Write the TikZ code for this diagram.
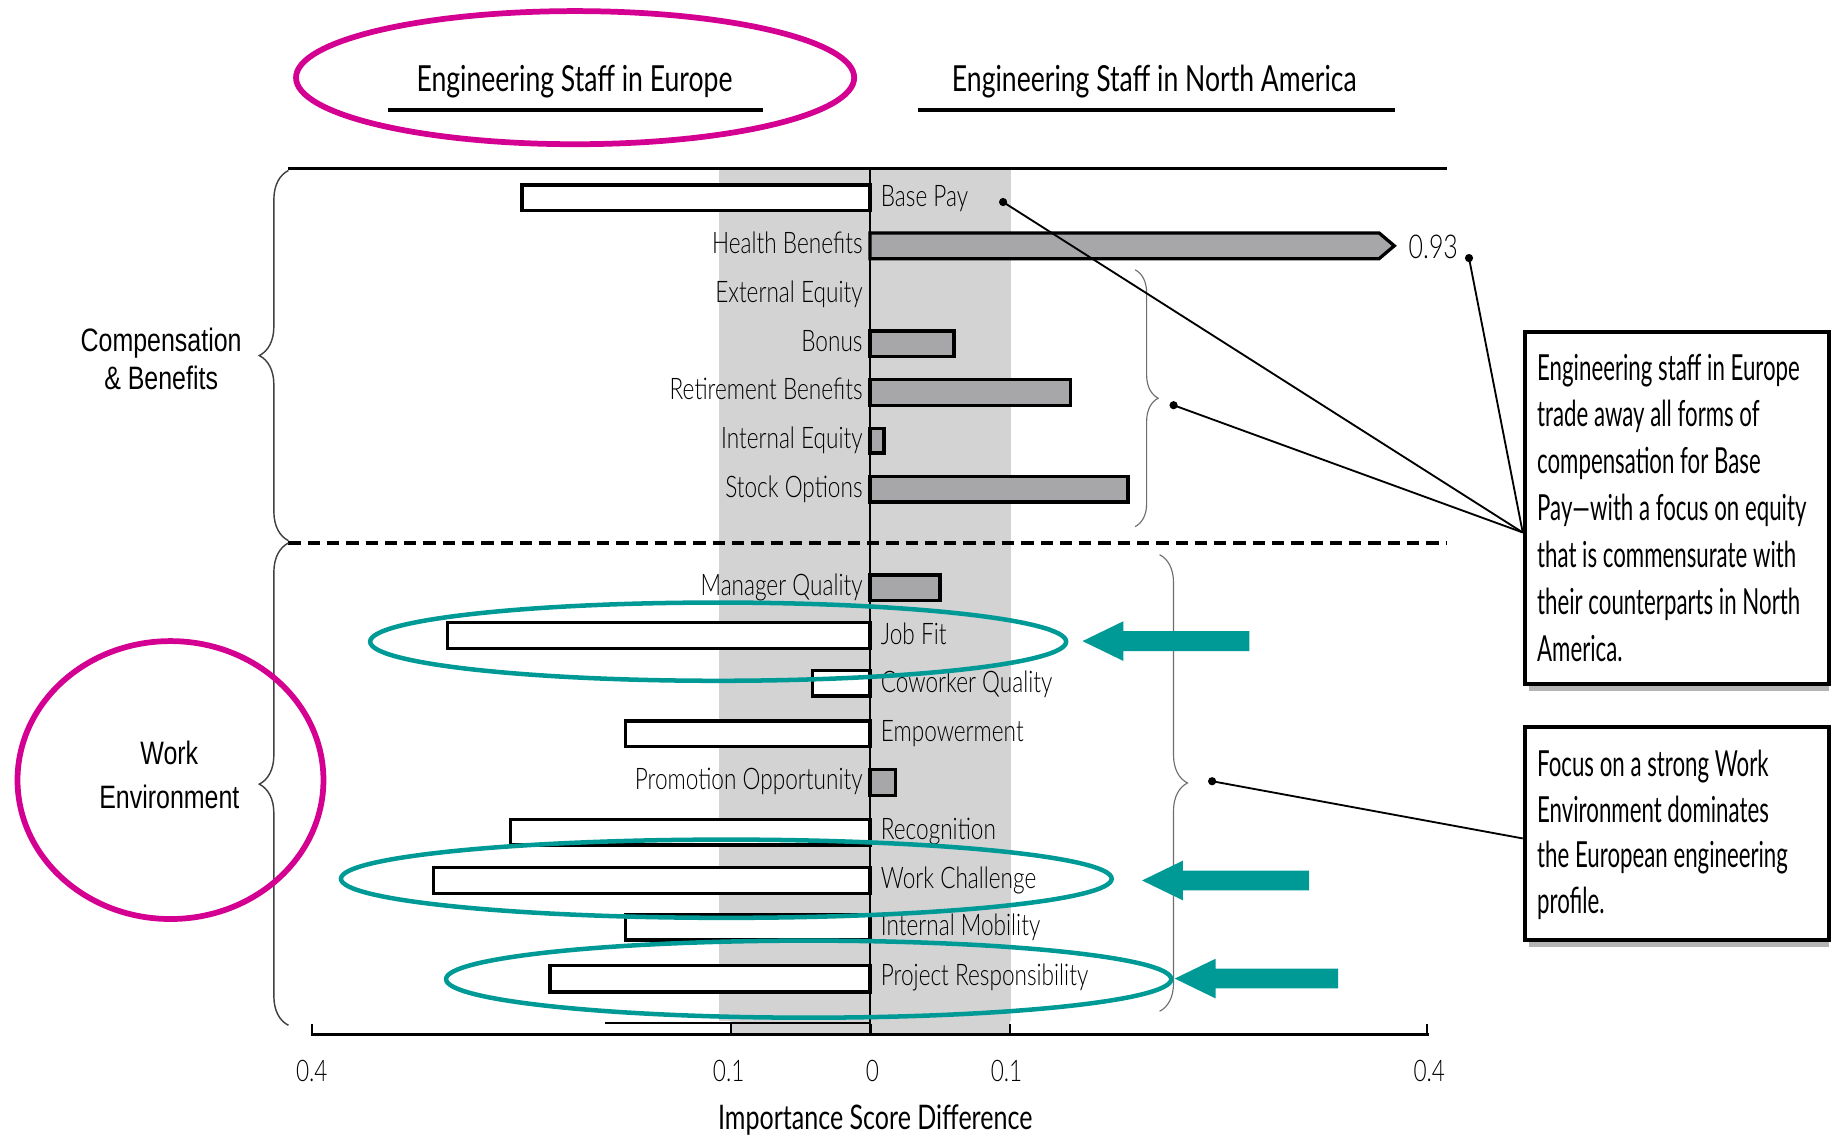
\documentclass[tikz,border=0pt]{standalone}
\usepackage{fontspec}
\usetikzlibrary{decorations.pathreplacing}
\newfontfamily\fT[FakeStretch=0.76]{Lato Light}
\newfontfamily\fH[FakeStretch=0.74]{Lato}
\newfontfamily\fC[FakeStretch=0.62]{Lato}
\newfontfamily\fA[FakeStretch=0.77]{Liberation Sans}
\definecolor{tealc}{RGB}{0,154,150}
\definecolor{magc}{RGB}{212,0,146}
\definecolor{bandgray}{RGB}{211,211,212}
\definecolor{bargray}{RGB}{167,167,169}
\definecolor{shadowgray}{RGB}{180,180,180}
\definecolor{bracegray}{RGB}{110,110,110}
\begin{document}
\begin{tikzpicture}[x=0.02cm,y=-0.02cm,
  lbl/.style={font=\fT\fontsize{14.5}{16}\selectfont, inner sep=0pt},
  lblL/.style={lbl, anchor=base east},
  lblR/.style={lbl, anchor=base west},
  negbar/.style={draw=black, fill=white, line width=1.6pt},
  posbar/.style={draw=black, fill=bargray, line width=1.6pt},
  tealell/.style={draw=tealc, line width=2.2pt},
  magell/.style={draw=magc, line width=2.8pt},
  tealarr/.style={fill=tealc},
  leader/.style={draw=black, line width=0.9pt},
  dotc/.style={circle, fill=black, inner sep=0pt, minimum size=4pt},
  callout/.style={draw=black, line width=1.9pt, fill=white, inner sep=0pt, anchor=north west},
  shade/.style={fill=shadowgray},
  bracel/.style={decorate, decoration={brace, amplitude=14.2pt}, draw=black!75, line width=0.7pt},
  bracer/.style={decorate, draw=bracegray, line width=0.55pt},
  axisline/.style={line width=1.7pt},
  tickmark/.style={line width=0.8pt},
  ticklbl/.style={font=\fT\fontsize{14.5}{16}\selectfont, inner sep=0pt, anchor=base},
  calltext/.style={font=\fC\fontsize{17.5}{22.85}\selectfont, inner sep=0pt, anchor=base west},
  titletext/.style={font=\fH\fontsize{17.5}{20}\selectfont, inner sep=0pt, anchor=base},
  grouplbl/.style={inner sep=0pt, anchor=base},
]
\useasboundingbox (0,0) rectangle (1568,974);
\fill[white] (0,0) rectangle (1568,974);

% titles
\node[titletext] (tEu) at (492,78) {Engineering Staff in Europe};
\draw[line width=1.9pt] (332,94) -- (653,94);
\node[titletext] (tNA) at (988.5,78) {Engineering Staff in North America};
\draw[line width=1.9pt] (786,94) -- (1195,94);

% band
\fill[bandgray] (616,146) rectangle (866,874);
\fill[bandgray] (626,874) rectangle (865,886);

% frame lines
\draw[axisline] (247,144.5) -- (1239,144.5);
\draw[line width=1.5pt, dash pattern=on 6pt off 3.4pt] (247,465) -- (1239,465);
\draw[line width=1.7pt] (266,886) -- (1224,886);
\foreach \x in {267,626,746,865,1222} \draw[tickmark] (\x,877) -- (\x,886);
\draw[line width=1.4pt] (518,876) -- (745,876);

% bars
\draw[negbar] (447,158.5) rectangle (745,180.5);
\draw[posbar] (745,199.5) -- (1181,199.5) -- (1194,210.5) -- (1181,221.5) -- (745,221.5) -- cycle;
\draw[posbar] (745,283.5) rectangle (817,305.5);
\draw[posbar] (745,325) rectangle (916.5,347);
\draw[posbar] (745,367) rectangle (757,388);
\draw[posbar] (745,408) rectangle (966,430);
\draw[posbar] (745,492.5) rectangle (805,514.5);
\draw[negbar] (383.5,533) rectangle (745,555.5);
\draw[negbar] (695.5,574) rectangle (745,596);
\draw[negbar] (535.5,617.5) rectangle (745,639.5);
\draw[posbar] (745,659) rectangle (767,681);
\draw[negbar] (437,701.5) rectangle (745,723.5);
\draw[negbar] (371.5,743) rectangle (745,765);
\draw[negbar] (535.5,783) rectangle (745,805);
\draw[negbar] (471,826.5) rectangle (745,849.5);

% zero axis
\draw[line width=1.2pt] (745,145) -- (745,886);

% bar labels
\node[lblR] (lBase) at (754,177) {Base Pay};
\node[lblL] (lHealth) at (739,217.5) {Health Benefits};
\node[lblL] (lExt) at (739,259) {External Equity};
\node[lblL] (lBonus) at (739,301) {Bonus};
\node[lblL] (lRet) at (739,342.5) {Retirement Benefits};
\node[lblL] (lIntEq) at (739,384) {Internal Equity};
\node[lblL] (lStock) at (739,426) {Stock Options};
\node[lblL] (lMgr) at (739,510) {Manager Quality};
\node[lblR] (lJob) at (754,551.5) {Job Fit};
\node[lblR] (lCow) at (754,593) {Coworker Quality};
\node[lblR] (lEmp) at (754,635) {Empowerment};
\node[lblL] (lProm) at (739,676.5) {Promotion Opportunity};
\node[lblR] (lRec) at (754,718.5) {Recognition};
\node[lblR] (lWork) at (754,760.5) {Work Challenge};
\node[lblR] (lMob) at (754,801.5) {Internal Mobility};
\node[lblR] (lProj) at (754,844) {Project Responsibility};

% value label
\node[font=\fT\fontsize{16}{18}\selectfont, inner sep=0pt, anchor=base west] (v093) at (1206,221) {0.93};

% axis labels
\node[ticklbl] (t1) at (267,926.5) {0.4};
\node[ticklbl] (t2) at (624,926.5) {0.1};
\node[ticklbl] (t3) at (747,926.5) {0};
\node[ticklbl] (t4) at (862,926.5) {0.1};
\node[ticklbl] (t5) at (1224,926.5) {0.4};
\node[font=\fH\fontsize{16.5}{18}\selectfont, inner sep=0pt, anchor=base] (axt) at (749.5,967) {Importance Score Difference};

% group labels
\node[grouplbl] (gComp) at (138,301) {\fA\fontsize{15.8}{18.7}\selectfont\vtop{\halign{\hfil#\hfil\cr Compensation\cr \& Benefits\cr}}};
\node[grouplbl] (gWork) at (145,655) {\fA\fontsize{15.8}{21.5}\selectfont\vtop{\halign{\hfil#\hfil\cr Work\cr Environment\cr}}};

% braces
\draw[bracel] (247,463) -- (247,146);
\draw[bracel] (247,878) -- (247,465);
\draw[bracer, decoration={brace, amplitude=11.3pt}] (972,231) -- (972,451);
\draw[bracer, decoration={brace, amplitude=13.6pt}] (993,475) -- (993,866);

% callouts
\fill[shade] (1309,585) rectangle (1566,592);
\fill[shade] (1309,804) rectangle (1566,811);
\node[callout, minimum width=5.22cm, minimum height=6.02cm] (box1) at (1304,283) {};
\node[callout, minimum width=5.22cm, minimum height=3.64cm] (box2) at (1304,621) {};
\node[calltext] (txt1) at (1316,325.5) {\vtop{\hbox{Engineering staff in Europe}\hbox{trade away all forms of}\hbox{compensation for Base}\hbox{Pay—with a focus on equity}\hbox{that is commensurate with}\hbox{their counterparts in North}\hbox{America.}}};
\node[calltext, font=\fC\fontsize{17.5}{22.2}\selectfont] (txt2) at (1316,665) {\vtop{\hbox{Focus on a strong Work}\hbox{Environment dominates}\hbox{the European engineering}\hbox{profile.}}};

% leaders
\node[dotc] (dBase) at (859,173) {};
\node[dotc] (d093) at (1258,221) {};
\node[dotc] (dComp) at (1005,347) {};
\node[dotc] (dWE) at (1038,669) {};
\coordinate (c1) at (1304,456);
\coordinate (c2) at (1304,718);
\draw[leader] (dBase.center) -- (c1);
\draw[leader] (d093.center) -- (c1);
\draw[leader] (dComp.center) -- (c1);
\draw[leader] (dWE.center) -- (c2);

% teal highlights
\draw[tealell] (615,549.5) ellipse [x radius=298, y radius=33.5];
\draw[tealell] (622,752.5) ellipse [x radius=330, y radius=33.5];
\draw[tealell] (692.5,838.5) ellipse [x radius=310.5, y radius=33];
\fill[tealarr] (927,549) -- (962,532) -- (962,540.5) -- (1070,540.5) -- (1070,557.5) -- (962,557.5) -- (962,566) -- cycle;
\fill[tealarr] (978,754) -- (1013,737) -- (1013,745.5) -- (1121,745.5) -- (1121,762.5) -- (1013,762.5) -- (1013,771) -- cycle;
\fill[tealarr] (1006,838) -- (1041,821) -- (1041,829.5) -- (1146,829.5) -- (1146,846.5) -- (1041,846.5) -- (1041,855) -- cycle;

% magenta highlights
\draw[magell] (492.5,66.5) ellipse [x radius=239, y radius=57];
\draw[magell] (146,668) ellipse [x radius=131, y radius=119];
\end{tikzpicture}
\end{document}
